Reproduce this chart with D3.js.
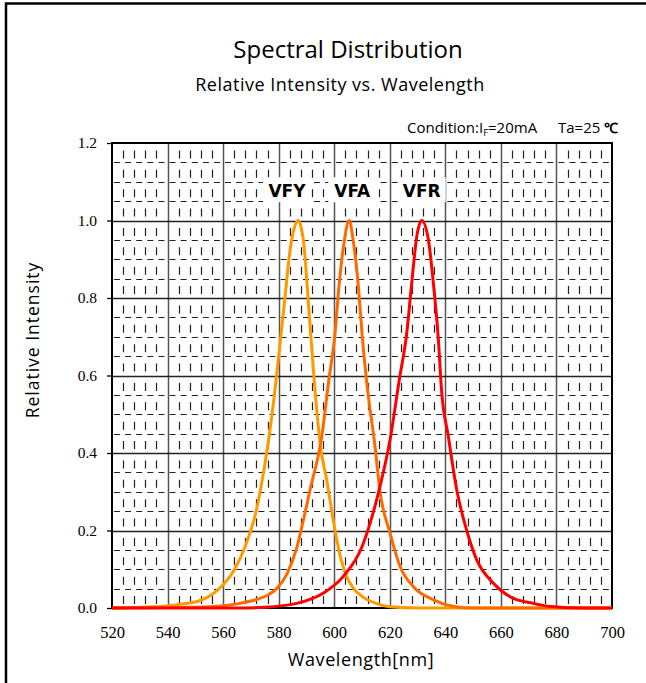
<!DOCTYPE html>
<html>
<head>
<meta charset="utf-8">
<script src="https://cdn.jsdelivr.net/npm/d3@7"></script>
<style>
  body { margin: 0; background: #fff; }
</style>
</head>
<body>
<div id="chart"></div>
<script>
// series names and colours
var seriesNames = ["VFY", "VFA", "VFR"];
var seriesColors = ["#ff9900", "#ff6a00", "#ff0000"];

// wavelength [nm] / relative intensity
var vfyWl = [520, 535, 545, 552, 556, 560, 564, 568, 572, 575, 576.5, 578.7, 580.5, 582.3, 584.1, 585.6, 587, 588, 588.9, 590.3, 591.5, 593.1, 595, 597.3, 600.3, 602.3, 604.5, 607, 610, 615, 620, 630, 700];
var vfyI  = [0, 0.003, 0.01, 0.02, 0.035, 0.06, 0.098, 0.16, 0.253, 0.37, 0.44, 0.565, 0.683, 0.803, 0.924, 0.98, 1.0, 0.985, 0.95, 0.829, 0.709, 0.56, 0.42, 0.33, 0.2, 0.13, 0.081, 0.05, 0.03, 0.012, 0.003, 0, 0];

var vfaWl = [520, 550, 560, 566, 572, 576, 579.3, 583, 586.5, 589, 591.3, 595.5, 598, 600.3, 601.7, 603.5, 605.4, 606.8, 608.7, 610.2, 611.9, 614.7, 616.5, 620.1, 623.7, 628.5, 635.7, 643, 650, 700];
var vfaI  = [0, 0.002, 0.006, 0.012, 0.022, 0.033, 0.05, 0.088, 0.155, 0.23, 0.305, 0.442, 0.585, 0.709, 0.829, 0.941, 1.0, 0.95, 0.829, 0.692, 0.57, 0.416, 0.3, 0.193, 0.107, 0.055, 0.021, 0.004, 0, 0];

var vfrWl = [520, 565, 575, 586.5, 596, 603.2, 610, 616, 620.1, 623.4, 626.1, 627.9, 629.7, 631.5, 633.9, 635.7, 637.5, 638.6, 641.1, 644.1, 647.7, 651.3, 657.3, 663.3, 671.6, 678, 690, 700];
var vfrI  = [0, 0, 0.002, 0.012, 0.038, 0.081, 0.158, 0.3, 0.434, 0.588, 0.709, 0.838, 0.958, 1.0, 0.95, 0.838, 0.692, 0.565, 0.442, 0.305, 0.2, 0.124, 0.064, 0.029, 0.012, 0.004, 0, 0];

// axis ticks
var xTicks = [520, 540, 560, 580, 600, 620, 640, 660, 680, 700];
var yTicks = [0.0, 0.2, 0.4, 0.6, 0.8, 1.0, 1.2];

// where the series labels sit (wavelength)
var labelWl = [583, 606.5, 631.5];

var W = 646, H = 683;
var plot = {left: 112, right: 612, top: 143, bottom: 608};

var svg = d3.select("#chart")
  .append("svg")
    .attr("width", W)
    .attr("height", H)
    .style("display", "block");

svg.append("rect").attr("width", W).attr("height", H).attr("fill", "#fff");

// outer frame (only top and left are visible in the picture)
svg.append("path")
  .attr("d", "M6," + H + "V3.5H" + W)
  .attr("fill", "none")
  .attr("stroke", "#000")
  .attr("stroke-width", 2.5);

var x = d3.scaleLinear().domain([520, 700]).range([plot.left, plot.right]);
var y = d3.scaleLinear().domain([0, 1.2]).range([plot.bottom, plot.top]);

var sans = "'Open Sans', Lato, sans-serif";
var serif = "'Liberation Serif', 'Times New Roman', Times, serif";

// titles
svg.append("text")
  .attr("x", 348).attr("y", 58)
  .attr("text-anchor", "middle")
  .style("font-family", sans).style("font-size", "24px")
  .text("Spectral Distribution");
svg.append("text")
  .attr("x", 340).attr("y", 91)
  .attr("text-anchor", "middle")
  .style("font-family", sans).style("font-size", "18px")
  .style("letter-spacing", "0.5px")
  .text("Relative Intensity vs. Wavelength");

// condition note
var cond = svg.append("text")
  .attr("x", 407).attr("y", 133)
  .style("font-family", sans).style("font-size", "15px");
cond.append("tspan").text("Condition:I");
cond.append("tspan").attr("dy", 3).style("font-size", "9.5px").text("F");
cond.append("tspan").attr("dy", -3).text("=20mA");
var ta = svg.append("text")
  .attr("x", 558).attr("y", 133)
  .style("font-family", sans).style("font-size", "15px");
ta.append("tspan").text("Ta=25 ");
ta.append("tspan").style("font-weight", "900").style("font-size", "14px").text("\u2103");

var g = svg.append("g");

// minor grid
var minorX = d3.range(520, 700.01, 4).filter(function(d) { return d % 20 !== 0; });
var minorY = d3.range(0, 1.2001, 0.05).map(function(d) { return +d.toFixed(2); })
  .filter(function(d) { return Math.round(d * 100) % 20 !== 0; });

g.selectAll(".minor-x")
  .data(minorX).enter()
  .append("line")
    .attr("x1", function(d) { return Math.round(x(d)) + 0.5; })
    .attr("x2", function(d) { return Math.round(x(d)) + 0.5; })
    .attr("y1", plot.bottom).attr("y2", plot.top)
    .attr("stroke", "#222")
    .attr("stroke-width", 1.2)
    .attr("stroke-dasharray", "8,11.375")
    .attr("stroke-dashoffset", -4);

g.selectAll(".minor-y")
  .data(minorY).enter()
  .append("line")
    .attr("x1", plot.left).attr("x2", plot.right)
    .attr("y1", function(d) { return Math.round(y(d)) + 0.5; })
    .attr("y2", function(d) { return Math.round(y(d)) + 0.5; })
    .attr("stroke", "#222")
    .attr("stroke-width", 1.2)
    .attr("stroke-dasharray", "6,5.11")
    .attr("stroke-dashoffset", -2);

// major grid
g.selectAll(".major-x")
  .data(xTicks.slice(1, -1)).enter()
  .append("line")
    .attr("x1", function(d) { return Math.round(x(d)) + 0.5; })
    .attr("x2", function(d) { return Math.round(x(d)) + 0.5; })
    .attr("y1", plot.bottom).attr("y2", plot.top)
    .attr("stroke", "#555")
    .attr("stroke-width", 1.5);

g.selectAll(".major-y")
  .data(yTicks.slice(1, -1)).enter()
  .append("line")
    .attr("x1", plot.left).attr("x2", plot.right)
    .attr("y1", function(d) { return Math.round(y(d)) + 0.5; })
    .attr("y2", function(d) { return Math.round(y(d)) + 0.5; })
    .attr("stroke", "#222")
    .attr("stroke-width", 1.3);

// plot frame
g.append("rect")
  .attr("x", plot.left).attr("y", plot.top)
  .attr("width", plot.right - plot.left)
  .attr("height", plot.bottom - plot.top)
  .attr("fill", "none")
  .attr("stroke", "#000")
  .attr("stroke-width", 2);

// axes
var yAxis = svg.append("g")
  .attr("transform", "translate(" + plot.left + ",0)")
  .call(d3.axisLeft(y).tickValues(yTicks).tickFormat(d3.format(".1f")).tickSize(5).tickPadding(10));
var xAxis = svg.append("g")
  .attr("transform", "translate(0," + plot.bottom + ")")
  .call(d3.axisBottom(x).tickValues(xTicks).tickFormat(d3.format("d")).tickSize(0).tickPadding(18));
[xAxis, yAxis].forEach(function(a) {
  a.attr("font-family", serif);
  a.select(".domain").remove();
  a.selectAll("line").attr("stroke", "#000").attr("stroke-width", 1.3);
  a.selectAll("text")
    .attr("font-family", serif)
    .style("font-family", serif)
    .attr("fill", "#000");
});
xAxis.selectAll("text").style("font-size", "16.5px");
yAxis.selectAll("text").style("font-size", "15.5px");

// axis titles
svg.append("text")
  .attr("x", 361).attr("y", 666)
  .attr("text-anchor", "middle")
  .style("font-family", sans).style("font-size", "18px")
  .style("letter-spacing", "0.6px")
  .text("Wavelength[nm]");
svg.append("text")
  .attr("transform", "translate(39,340) rotate(-90)")
  .attr("text-anchor", "middle")
  .style("font-family", sans).style("font-size", "17.5px")
  .style("letter-spacing", "1px")
  .text("Relative Intensity");

// curves
var series = [
  {name: seriesNames[0], wl: vfyWl, val: vfyI},
  {name: seriesNames[1], wl: vfaWl, val: vfaI},
  {name: seriesNames[2], wl: vfrWl, val: vfrI}
];
var color = d3.scaleOrdinal().domain(seriesNames).range(seriesColors);

var line = d3.line()
  .x(function(d) { return x(d[0]); })
  .y(function(d) { return y(d[1]); })
  .curve(d3.curveMonotoneX);

svg.append("g").selectAll("path")
  .data(series).enter()
  .append("path")
    .attr("d", function(s) { return line(d3.zip(s.wl, s.val)); })
    .attr("fill", "none")
    .attr("stroke", function(s) { return color(s.name); })
    .attr("stroke-width", 3)
    .attr("stroke-linejoin", "round");

// series labels on white boxes
var lab = svg.append("g").selectAll("g")
  .data(series).enter()
  .append("g")
    .attr("transform", function(s, i) { return "translate(" + x(labelWl[i]) + "," + y(1.06) + ")"; });
lab.append("rect")
  .attr("x", -24).attr("y", -20)
  .attr("width", 48).attr("height", 25)
  .attr("fill", "#fff");
lab.append("text")
  .attr("text-anchor", "middle")
  .style("font-family", "'DejaVu Sans', sans-serif")
  .style("font-weight", "bold")
  .style("font-size", "17px")
  .text(function(s) { return s.name; });
</script>
</body>
</html>
